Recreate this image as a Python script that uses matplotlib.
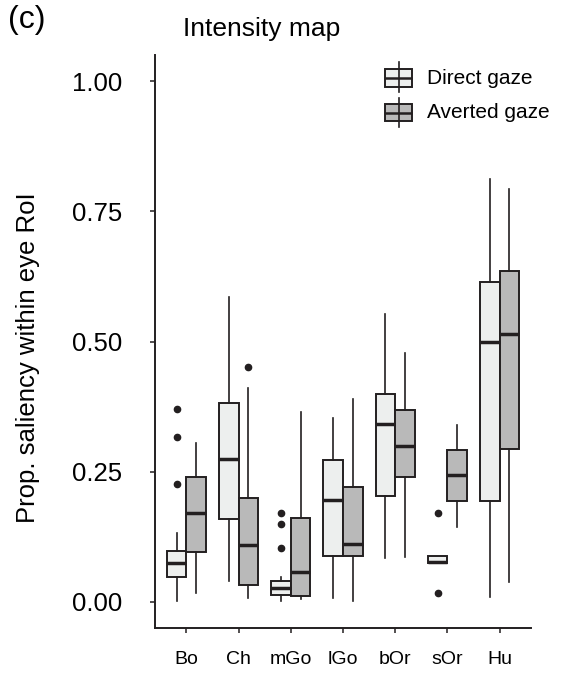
"""
Intensity map: grouped boxplots of the saliency share inside the eye RoI,
direct vs. averted gaze, one pair per species group.
Box statistics were read off the published figure.
"""

import matplotlib
matplotlib.use("Agg")
import matplotlib.pyplot as plt
from matplotlib.patches import Rectangle
from matplotlib.lines import Line2D

plt.rcParams['font.family'] = ['Liberation Sans', 'DejaVu Sans']

# ── data ─────────────────────────────────────────────────────────────────────

categories = ["Bo", "Ch", "mGo", "lGo", "bOr", "sOr", "Hu"]
groups     = ["Direct gaze", "Averted gaze"]

# per category: [direct, averted]
q1 = [[0.047, 0.096], [0.160, 0.032], [0.013, 0.012], [0.088, 0.088],
      [0.204, 0.240], [0.074, 0.194], [0.194, 0.294]]
med = [[0.074, 0.170], [0.275, 0.109], [0.026, 0.058], [0.196, 0.111],
       [0.342, 0.299], [0.077, 0.243], [0.500, 0.514]]
q3 = [[0.097, 0.240], [0.382, 0.200], [0.040, 0.162], [0.272, 0.220],
      [0.400, 0.368], [0.088, 0.291], [0.615, 0.636]]
whislo = [[0.001, 0.018], [0.040, 0.007], [0.001, 0.005], [0.008, 0.001],
          [0.085, 0.087], [0.074, 0.144], [0.010, 0.039]]
whishi = [[0.133, 0.305], [0.586, 0.411], [0.047, 0.365], [0.353, 0.390],
          [0.553, 0.478], [0.088, 0.339], [0.811, 0.793]]
fliers = [[[0.371, 0.317, 0.227], []],
          [[], [0.451]],
          [[0.171, 0.149, 0.103], []],
          [[], []],
          [[], []],
          [[0.171, 0.017], []],
          [[], []]]

# ── style ─────────────────────────────────────────────────────────────────────

EDGE   = "#231F20"
FILLS  = ["#EDEFEE", "#B9B9B9"]
W, H   = 561, 675
DODGE  = 0.1875
BOXW   = 0.375


def px(x, y):
    """figure pixel (from top-left) -> figure fraction"""
    return x / W, 1 - y / H


fig = plt.figure(figsize=(W / 100, H / 100), dpi=100)
ax = fig.add_axes([155 / W, 1 - 628 / H, (531 - 155) / W, (628 - 55) / H])

for g, (fill, off) in enumerate(zip(FILLS, [-DODGE, DODGE])):
    stats = []
    for i in range(len(categories)):
        stats.append(dict(q1=q1[i][g], med=med[i][g], q3=q3[i][g],
                          whislo=whislo[i][g], whishi=whishi[i][g],
                          fliers=fliers[i][g]))
    positions = [i + 1 + off for i in range(len(categories))]
    ax.bxp(stats, positions=positions, widths=BOXW, patch_artist=True,
           showcaps=False,
           boxprops=dict(facecolor=fill, edgecolor=EDGE, linewidth=1.4),
           whiskerprops=dict(color=EDGE, linewidth=1.2),
           medianprops=dict(color=EDGE, linewidth=2.5, solid_capstyle='butt'),
           flierprops=dict(marker='o', markerfacecolor=EDGE, markeredgecolor=EDGE,
                           markersize=4.5, linestyle='none'))

ax.set_xlim(0.4, 7.6)
ax.set_ylim(-0.05, 1.05)
ax.set_xticks(range(1, len(categories) + 1))
ax.set_xticklabels(categories)
ax.set_yticks([0, 0.25, 0.5, 0.75, 1.0])
ax.set_yticklabels(["0.00", "0.25", "0.50", "0.75", "1.00"])

for side in ['top', 'right']:
    ax.spines[side].set_visible(False)
for side in ['left', 'bottom']:
    ax.spines[side].set_color(EDGE)
    ax.spines[side].set_linewidth(1.4)

ax.tick_params(axis='x', length=3.6, width=1.1, color=EDGE, pad=13,
               labelsize=14, labelcolor='black')
ax.tick_params(axis='y', length=3.6, width=1.1, color=EDGE, pad=20,
               labelsize=18.5, labelcolor='black')

# ── texts ─────────────────────────────────────────────────────────────────────

fig.text(*px(8, 20), "(c)", fontsize=23, ha='left', va='center')
fig.text(*px(262, 36), "Intensity map", fontsize=19, ha='center', va='baseline')
fig.text(*px(28, 358), "Prop. saliency within eye RoI", fontsize=18.5,
         rotation=90, ha='center', va='center')

# ── legend (drawn by hand to mimic the box glyphs) ───────────────────────────

legend_rows = [(groups[0], FILLS[0], 62, 69, 87, 92),
               (groups[1], FILLS[1], 98, 104, 121, 127)]
x0, x1 = 385, 412
xc = (x0 + x1) / 2
for label, fill, wtop, btop, bbot, wbot in legend_rows:
    (fx0, fy1), (fx1, fy0) = px(x0, btop), px(x1, bbot)
    fig.add_artist(Line2D([px(xc, wtop)[0]] * 2, [px(xc, wtop)[1], px(xc, wbot)[1]],
                          color=EDGE, linewidth=1.2, transform=fig.transFigure))
    fig.add_artist(Rectangle((fx0, fy0), fx1 - fx0, fy1 - fy0, facecolor=fill,
                             edgecolor=EDGE, linewidth=1.4,
                             transform=fig.transFigure))
    ym = px(0, (btop + bbot) / 2)[1]
    fig.add_artist(Line2D([fx0, fx1], [ym, ym], color=EDGE, linewidth=1.8,
                          solid_capstyle='butt', transform=fig.transFigure))
    fig.text(px(427, 0)[0], ym, label, fontsize=15, ha='left', va='center')

fig.savefig("out.png", dpi=100)
